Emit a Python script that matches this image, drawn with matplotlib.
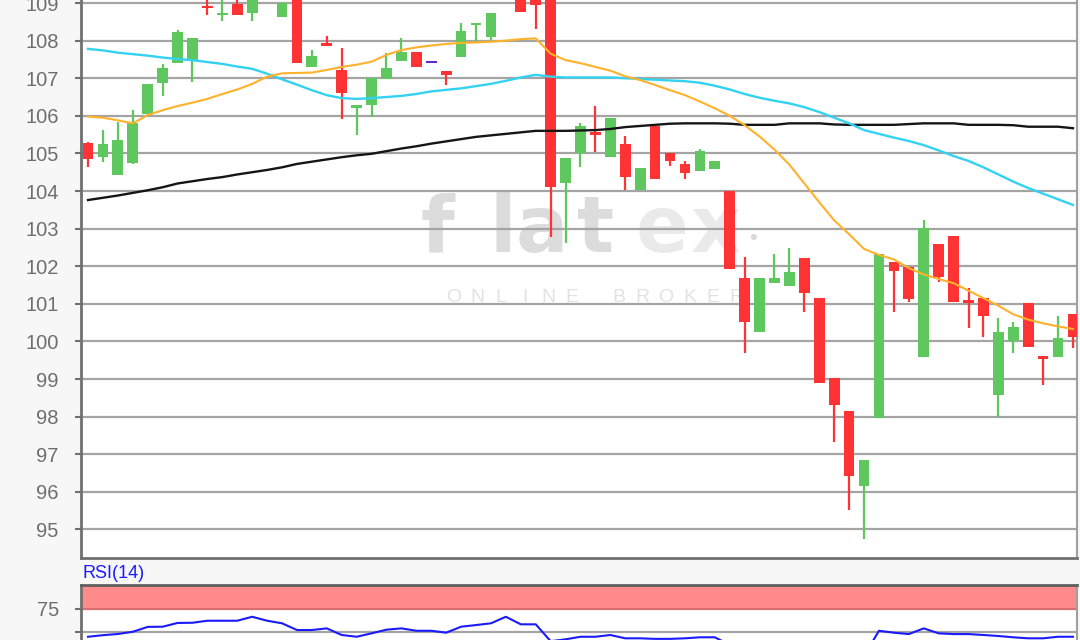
import numpy as np
import matplotlib
matplotlib.use("Agg")
import matplotlib.pyplot as plt

plt.rcParams['font.family'] = ['Liberation Sans', 'DejaVu Sans']

# daily candles (some run above the visible frame)
opens = [105.28, 104.90, 104.43, 104.74, 106.04, 106.86, 107.40, 107.47, 108.93, 108.68,
         108.97, 108.73, 109.55, 108.62, 109.40, 107.29, 107.93, 107.22, 106.20, 106.29,
         106.98, 107.46, 107.69, 107.42, 107.20, 107.57, 108.42, 108.09, 109.60, 109.25,
         109.15, 109.30, 104.20, 105.02, 105.57, 104.91, 105.25, 104.03, 105.73, 105.02,
         104.71, 104.53, 104.59, 104.01, 101.68, 100.26, 101.56, 101.48, 102.21, 101.15,
         99.02, 98.16, 96.16, 97.97, 102.12, 101.99, 99.59, 102.59, 102.80, 101.10,
         101.15, 98.57, 100.02, 101.03, 99.62, 99.58, 100.73]
highs = [105.30, 105.62, 105.83, 106.15, 106.84, 107.37, 108.28, 108.08, 109.20, 109.20,
         109.20, 109.25, 109.70, 108.99, 109.45, 107.75, 108.12, 107.80, 106.30, 107.00,
         107.68, 108.06, 107.69, 107.42, 107.20, 108.48, 108.48, 108.74, 109.75, 109.30,
         109.20, 109.35, 104.87, 105.80, 106.26, 105.93, 105.46, 104.60, 105.73, 105.02,
         104.81, 105.13, 104.81, 104.01, 102.25, 101.68, 102.32, 102.48, 102.21, 101.15,
         99.02, 98.16, 96.85, 102.32, 102.12, 101.99, 103.23, 102.59, 102.80, 101.41,
         101.15, 100.61, 100.52, 101.03, 99.62, 100.67, 100.73]
lows = [104.63, 104.78, 104.43, 104.72, 106.04, 106.53, 107.40, 106.91, 108.68, 108.52,
        108.68, 108.52, 109.10, 108.62, 107.40, 107.29, 107.86, 105.91, 105.49, 105.98,
        106.98, 107.46, 107.31, 107.42, 106.82, 107.57, 107.97, 107.97, 109.20, 108.77,
        108.30, 102.77, 102.61, 104.65, 105.05, 104.91, 104.03, 104.03, 104.32, 104.67,
        104.31, 104.53, 104.59, 101.92, 99.68, 100.26, 101.56, 101.48, 100.79, 98.89,
        97.33, 95.52, 94.74, 97.97, 100.79, 101.05, 99.59, 101.59, 101.06, 100.36,
        100.11, 98.00, 99.68, 99.86, 98.84, 99.58, 99.83]
closes = [104.84, 105.24, 105.36, 105.80, 106.84, 107.26, 108.22, 108.06, 108.86, 108.74,
          108.68, 109.20, 109.20, 108.99, 107.40, 107.59, 107.86, 106.60, 106.30, 107.00,
          107.26, 107.71, 107.31, 107.42, 107.09, 108.26, 108.48, 108.74, 109.30, 108.77,
          108.95, 104.11, 104.87, 105.73, 105.53, 105.93, 104.38, 104.60, 104.32, 104.81,
          104.49, 105.06, 104.81, 101.92, 100.52, 101.68, 101.68, 101.84, 101.28, 98.89,
          98.31, 96.43, 96.85, 102.32, 101.87, 101.12, 103.01, 101.71, 101.06, 101.03,
          100.68, 100.24, 100.39, 99.86, 99.53, 100.08, 100.13]

# moving averages (orange = short, cyan = medium, black = long)
ma_short = [105.98, 105.95, 105.88, 105.80, 106.02, 106.15, 106.26, 106.35, 106.45, 106.58,
            106.70, 106.85, 107.04, 107.13, 107.14, 107.15, 107.22, 107.30, 107.36, 107.44,
            107.62, 107.75, 107.82, 107.87, 107.91, 107.94, 107.95, 107.97, 108.00, 108.04,
            108.06, 107.65, 107.48, 107.40, 107.30, 107.20, 107.05, 106.95, 106.82, 106.68,
            106.55, 106.38, 106.20, 106.00, 105.75, 105.45, 105.10, 104.70, 104.20, 103.70,
            103.22, 102.85, 102.46, 102.30, 102.18, 101.95, 101.78, 101.66, 101.55, 101.35,
            101.15, 100.95, 100.72, 100.58, 100.48, 100.40, 100.33]
ma_mid = [107.78, 107.74, 107.68, 107.64, 107.60, 107.55, 107.51, 107.48, 107.43, 107.38,
          107.31, 107.25, 107.12, 106.97, 106.83, 106.68, 106.55, 106.47, 106.45, 106.47,
          106.50, 106.53, 106.58, 106.65, 106.69, 106.73, 106.79, 106.85, 106.93, 107.02,
          107.09, 107.04, 107.02, 107.02, 107.02, 107.02, 107.00, 106.98, 106.96, 106.94,
          106.92, 106.88, 106.80, 106.70, 106.58, 106.48, 106.40, 106.33, 106.23, 106.10,
          105.95, 105.80, 105.62, 105.52, 105.42, 105.33, 105.22, 105.08, 104.93, 104.80,
          104.63, 104.44, 104.25, 104.08, 103.93, 103.78, 103.63]
ma_long = [103.76, 103.82, 103.88, 103.95, 104.02, 104.10, 104.20, 104.26, 104.32, 104.37,
           104.44, 104.50, 104.56, 104.63, 104.72, 104.78, 104.84, 104.90, 104.95, 104.99,
           105.06, 105.13, 105.19, 105.26, 105.32, 105.38, 105.44, 105.48, 105.52, 105.56,
           105.60, 105.60, 105.60, 105.61, 105.62, 105.65, 105.70, 105.73, 105.76, 105.79,
           105.80, 105.80, 105.80, 105.79, 105.76, 105.76, 105.76, 105.80, 105.80, 105.80,
           105.77, 105.76, 105.76, 105.76, 105.76, 105.78, 105.80, 105.80, 105.80, 105.76,
           105.76, 105.76, 105.75, 105.71, 105.71, 105.71, 105.67]

rsi = [44.8, 46.5, 47.8, 50.2, 55.5, 55.7, 59.8, 60.0, 62.2, 62.2,
       62.2, 66.5, 62.2, 59.4, 52.1, 52.1, 53.9, 46.7, 44.8, 48.5,
       52.5, 53.9, 51.3, 51.3, 49.2, 55.7, 57.5, 59.4, 66.5, 58.3,
       58.3, 40.0, 42.0, 44.8, 44.8, 46.7, 43.1, 43.1, 42.5, 42.5,
       43.1, 44.2, 44.2, 36.0, 33.0, 38.0, 38.0, 39.0, 35.0, 28.0,
       25.0, 21.0, 24.0, 51.3, 49.2, 47.7, 53.9, 48.5, 47.7, 47.7,
       46.7, 45.6, 44.2, 43.1, 43.1, 44.8, 44.8]

price_ticks = list(range(95, 110))
rsi_ticks = [50, 75]
rsi_ticklabels = ['', '75']

W, H = 1080, 640
fig = plt.figure(figsize=(W / 100, H / 100), dpi=100, facecolor='#f7f7f7')

# main panel, top cut off by the picture edge
ax = fig.add_axes([81 / W, (H - 558) / H, 996 / W, 558 / H])
# rsi panel, bottom runs past the picture edge
rsi_top = 585
rsi_px = 93
axr = fig.add_axes([81 / W, (H - rsi_top - rsi_px) / H, 996 / W, rsi_px / H])

grid_col = '#a4a4a4'
txt_col = '#6e6e6e'
up_col = '#5ec85e'
dn_col = '#ff3333'

n = len(closes)
x = np.arange(n)
o = np.array(opens); c = np.array(closes)
hi = np.array(highs); lo = np.array(lows)

ax.set_facecolor('white')
for t in price_ticks:
    ax.axhline(t, color=grid_col, lw=1.6, zorder=1)

# watermark sits behind grid and candles, letters spaced out by hand
def px(xp, yp):
    return xp / W, 1 - yp / H

for ch, xp, col in [('f', 437, '#dcdcdc'), ('l', 503, '#dcdcdc'), ('a', 542, '#dcdcdc'),
                    ('t', 596, '#dcdcdc'), ('e', 662, '#eaeaea'), ('x', 716, '#eaeaea')]:
    ax.text(*px(xp, 230), ch, fontsize=56, color=col, ha='center', va='center',
            family='DejaVu Sans', fontweight='bold', transform=fig.transFigure, zorder=0.5)
ax.text(*px(753, 238), '•', fontsize=16, color='#d9d9d9', ha='center', va='center',
        transform=fig.transFigure, zorder=0.5)
word = 'ONLINE BROKER'
xp = 454
for ch in word:
    if ch == ' ':
        xp += 24
        continue
    ax.text(*px(xp, 297), ch, fontsize=14, color='#e2e2e2', ha='center', va='center',
            transform=fig.transFigure, zorder=0.5)
    xp += 23.5

colors = []
for i in range(n):
    if o[i] == c[i]:
        colors.append('#5a2ad0')
    elif c[i] > o[i]:
        colors.append(up_col)
    else:
        colors.append(dn_col)

ax.vlines(x, lo, hi, colors=colors, lw=1.6, zorder=3)
body_lo = np.minimum(o, c)
body_h = np.maximum(np.abs(c - o), 0.055)
ax.bar(x, body_h, bottom=body_lo - np.where(np.abs(c - o) < 0.055, 0.0275, 0),
       width=0.72, color=colors, zorder=4)

ax.plot(x, ma_long, color='#151515', lw=1.7, zorder=5)
ax.plot(x, ma_mid, color='#33d2f2', lw=1.7, zorder=5)
ax.plot(x, ma_short, color='#ffb12a', lw=1.5, zorder=5)

x_lo, x_hi = -0.47, n - 1 + 0.27
ax.set_xlim(x_lo, x_hi)
ax.set_ylim(94.24, 109.08)
ax.set_yticks(price_ticks)
ax.set_xticks([])
ax.tick_params(axis='y', length=4, width=1.5, color='#707070', labelcolor=txt_col,
               labelsize=14.5, pad=12)
ax.spines['top'].set_visible(False)
ax.spines['left'].set_color('#707070')
ax.spines['left'].set_linewidth(2)
ax.spines['bottom'].set_color('#707070')
ax.spines['bottom'].set_linewidth(2)
ax.spines['right'].set_color('#a0a0a0')
ax.spines['right'].set_linewidth(1.5)

# RSI panel
axr.set_facecolor('white')
axr.axhspan(75, 100, color='#ff8a8a', zorder=1)
axr.axhline(75, color='#d06a6a', lw=1.2, zorder=2)
axr.axhline(100, color='#d06a6a', lw=1.2, zorder=2)
axr.axhline(50, color=grid_col, lw=1.6, zorder=1)
axr.plot(x, rsi, color='#1a1aff', lw=1.5, zorder=3)
axr.set_xlim(x_lo, x_hi)
axr.set_ylim(0, 101)
axr.set_yticks(rsi_ticks)
axr.set_yticklabels(rsi_ticklabels)
axr.set_xticks([])
axr.tick_params(axis='y', length=4, width=1.5, color='#707070', labelcolor=txt_col,
                labelsize=14.5, pad=12)
axr.spines['top'].set_color('#606060')
axr.spines['top'].set_linewidth(2)
axr.spines['left'].set_color('#707070')
axr.spines['left'].set_linewidth(2)
axr.spines['right'].set_color('#a0a0a0')
axr.spines['right'].set_linewidth(1.5)

fig.text(82 / W, 1 - 574 / H, 'RSI(14)', color='#1a1aff', fontsize=13,
         ha='left', va='center')

fig.savefig('out.png', dpi=100, facecolor=fig.get_facecolor())
